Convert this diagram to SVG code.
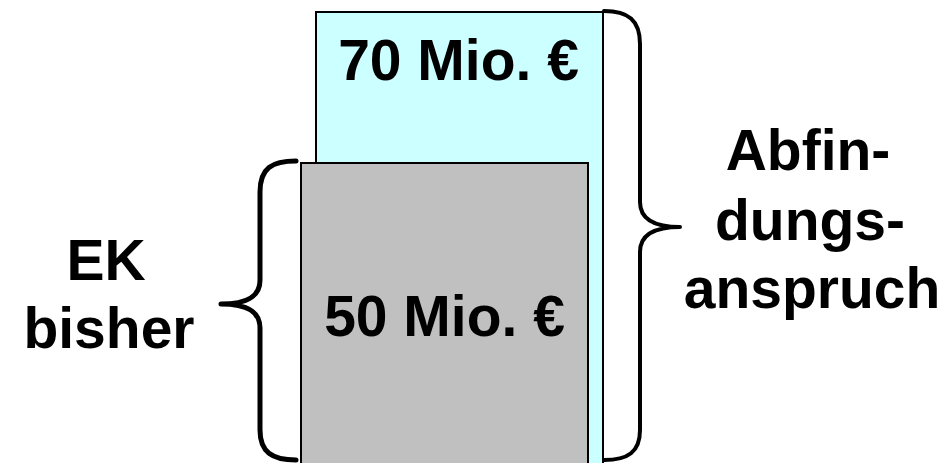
<svg xmlns="http://www.w3.org/2000/svg" width="944" height="463" viewBox="0 0 944 463">
<style>
text{font-family:"Liberation Sans",Arial,sans-serif;font-weight:bold;font-size:57px;fill:#000;text-anchor:middle}
.brace{fill:none;stroke:#000;stroke-linecap:round;stroke-linejoin:round}
</style>
<rect width="944" height="463" fill="#fff"/>
<g id="abfindung-box">
<rect x="316" y="12" width="287" height="460" fill="#ccffff" stroke="#000" stroke-width="2"/>
<text x="458.5" y="80">70 Mio. €</text>
</g>
<g id="ek-box">
<rect x="301" y="163" width="287" height="310" fill="#c0c0c0" stroke="#000" stroke-width="2"/>
<text x="444.5" y="336">50 Mio. €</text>
</g>
<g id="connectors">
<path class="brace" stroke-width="5" d="M296,161 C272,161 260,168 260,192 L260,280 C260,296 248,304 221,304 C248,304 260,312 260,328 L260,430 C260,452 272,460 296,460"/>
<path class="brace" stroke-width="4" d="M604,11 C628,11 640,20 640,44 L640,202 C640,218 652,227 680,227 C652,227 640,236 640,252 L640,430 C640,452 628,460 604,460"/>
</g>
<g id="label-ek">
<text x="106" y="280">EK</text>
<text x="109" y="348">bisher</text>
</g>
<g id="label-abfindung">
<text x="808" y="170">Abfin-</text>
<text x="810" y="240">dungs-</text>
<text x="812" y="308">anspruch</text>
</g>
</svg>
